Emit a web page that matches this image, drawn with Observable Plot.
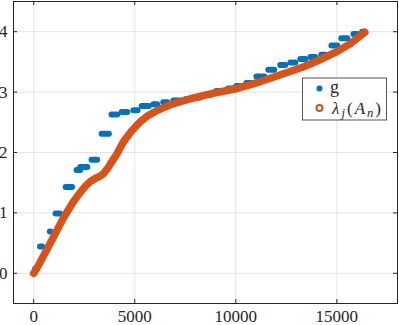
<!DOCTYPE html>
<html>
<head>
<meta charset="utf-8">
<script src="https://cdn.jsdelivr.net/npm/d3@7"></script>
<script src="https://cdn.jsdelivr.net/npm/@observablehq/plot@0.6"></script>
<style>
  html, body { margin: 0; padding: 0; background: #fff; }
  #chart { width: 399px; height: 325px; }
</style>
</head>
<body>
<div id="chart"></div>
<script>
// ---- Data ----
const xTicks = [0, 5000, 10000, 15000];
const yTicks = [0, 1, 2, 3, 4];

// g: plateau start, plateau end, value
const gStart = [60, 310, 800, 1080, 1580, 2120, 2300, 2860, 3360, 3850, 4350, 4930, 5340, 5920, 6410, 6910, 7500, 8050, 8540, 9030, 9620, 10020, 10520, 11020, 11610, 12200, 12700, 13190, 13690, 14230, 14730, 15220, 15820, 16250];
const gEnd   = [170, 420, 830, 1300, 1900, 2300, 2650, 3140, 3720, 4130, 4630, 5140, 5700, 6110, 6610, 7250, 7750, 8240, 8730, 9320, 9820, 10320, 10810, 11410, 11900, 12450, 12940, 13440, 13930, 14430, 15020, 15520, 16010, 16384];
const gVal   = [0.07, 0.445, 0.69, 0.99, 1.43, 1.71, 1.76, 1.88, 2.31, 2.63, 2.67, 2.70, 2.77, 2.80, 2.83, 2.86, 2.88, 2.91, 2.95, 3.02, 3.06, 3.10, 3.15, 3.26, 3.37, 3.45, 3.49, 3.55, 3.58, 3.62, 3.77, 3.89, 3.96, 4.00];

// lambda_j(A_n)
const lamX = [0, 250, 600, 980, 1475, 1970, 2300, 2550, 2800, 3040, 3290, 3450, 3620, 4120, 4445, 4850, 5270, 5650, 6015, 6400, 6765, 7750, 8740, 10060, 10900, 11700, 12500, 13360, 14200, 15000, 15700, 16384];
const lamY = [0, 0.14, 0.36, 0.60, 0.92, 1.19, 1.34, 1.44, 1.52, 1.57, 1.61, 1.65, 1.72, 1.98, 2.18, 2.36, 2.51, 2.61, 2.68, 2.74, 2.79, 2.89, 2.97, 3.06, 3.14, 3.23, 3.32, 3.42, 3.54, 3.67, 3.81, 3.99];

const gData = gStart.map((s, i) => ({x1: s, x2: gEnd[i], y: gVal[i]}));
const lamData = lamX.map((x, i) => ({x, y: lamY[i]}));

const W = 399, H = 325;
const mL = 13, mR = 2, mT = 1, mB = 22;
const pw = W - mL - mR, ph = H - mT - mB;
const tl = 4;
const blue = "#0072BD", orange = "#D95319", ink = "#262626";
const serif = "Liberation Serif";

const plot = Plot.plot({
  width: W, height: H,
  marginLeft: mL, marginRight: mR, marginTop: mT, marginBottom: mB,
  x: {domain: [-1000, 18000]},
  y: {domain: [-0.5, 4.5]},
  style: {fontFamily: serif, fontSize: "17px", color: ink, background: "#fff"},
  marks: [
    Plot.gridX(xTicks, {stroke: "#e3e3e3", strokeOpacity: 1}),
    Plot.gridY(yTicks, {stroke: "#e3e3e3", strokeOpacity: 1}),
    Plot.axisX(xTicks, {label: null, tickSize: 0, tickPadding: 6.5, tickFormat: d => String(d), fontSize: 17, fontFamily: serif, fill: ink}),
    Plot.axisY(yTicks, {label: null, tickSize: 0, tickPadding: 6, tickFormat: d => String(d), fontSize: 17, fontFamily: serif, fill: ink}),
    Plot.tickX(xTicks, {insetTop: ph - tl, stroke: ink}),
    Plot.tickX(xTicks, {insetBottom: ph - tl, stroke: ink}),
    Plot.tickY(yTicks, {insetRight: pw - tl, stroke: ink}),
    Plot.tickY(yTicks, {insetLeft: pw - tl, stroke: ink}),
    Plot.link(gData, {x1: "x1", x2: "x2", y1: "y", y2: "y", stroke: blue, strokeWidth: 6, strokeLinecap: "round"}),
    Plot.line(lamData, {x: "x", y: "y", stroke: orange, strokeWidth: 7.5, strokeLinecap: "round", strokeLinejoin: "round"}),
    Plot.frame({stroke: ink, strokeWidth: 1})
  ]
});
document.getElementById("chart").appendChild(plot);

// ---- Legend ----
const svg = d3.select(plot);
const lg = svg.append("g").attr("font-family", serif).attr("fill", ink).attr("text-anchor", "start");
lg.append("rect").attr("x", 302.5).attr("y", 78).attr("width", 84).attr("height", 42)
  .attr("fill", "#fff").attr("stroke", "#555").attr("stroke-width", 1);
lg.append("circle").attr("cx", 319.5).attr("cy", 88.5).attr("r", 3).attr("fill", blue);
lg.append("circle").attr("cx", 319.5).attr("cy", 108).attr("r", 3).attr("fill", "none").attr("stroke", orange).attr("stroke-width", 2);
lg.append("text").attr("x", 330).attr("y", 93).attr("font-size", 18).text("g");
const t2 = lg.append("text").attr("x", 332).attr("y", 113.5).attr("font-size", 17)
  .attr("textLength", 49).attr("lengthAdjust", "spacing");
t2.append("tspan").attr("font-style", "italic").text("λ");
t2.append("tspan").attr("font-style", "italic").attr("font-size", 12.5).attr("dy", 3).text("j");
t2.append("tspan").attr("dy", -3).text("(");
t2.append("tspan").attr("font-style", "italic").text("A");
t2.append("tspan").attr("font-style", "italic").attr("font-size", 12.5).attr("dy", 3).text("n");
t2.append("tspan").attr("dy", -3).text(")");
</script>
</body>
</html>
